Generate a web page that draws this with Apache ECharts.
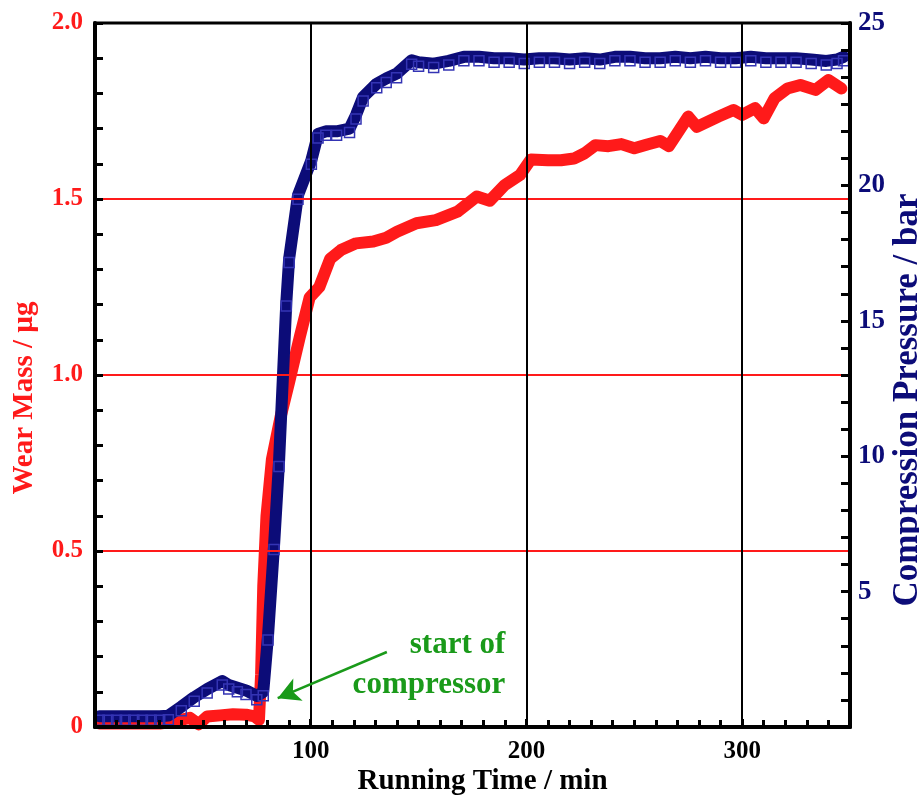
<!DOCTYPE html>
<html>
<head>
<meta charset="utf-8">
<script src="https://cdn.jsdelivr.net/npm/echarts@6/dist/echarts.min.js"></script>
<style>
html,body{margin:0;padding:0;background:#fff;}
#chart{width:919px;height:799px;}
</style>
</head>
<body>
<div id="chart"></div>
<script>
// ---- data ----
const wearTime = [2,10,20,30,36,44,48,52,58,64,70,74,76,77,78,79.5,82,86,90,95,99.5,104,109,114,121,129,135,140,149,158,168,177,183,190,197,202,210,216,222,227,232,238,244,250,256,262,266,275,279,289,296,300,306,310,315,321,327,334,340,346];
const wearMass = [0.01,0.01,0.01,0.01,0.015,0.026,0.008,0.03,0.033,0.036,0.035,0.03,0.02,0.15,0.4,0.6,0.76,0.88,0.98,1.11,1.22,1.25,1.33,1.355,1.374,1.379,1.39,1.407,1.431,1.44,1.464,1.507,1.495,1.54,1.568,1.612,1.61,1.61,1.615,1.63,1.653,1.65,1.656,1.644,1.655,1.665,1.65,1.734,1.705,1.734,1.753,1.739,1.758,1.729,1.786,1.814,1.824,1.81,1.838,1.814];

const pressTime = [2,6,10,14,18,22,26,30,34,40,46,52,59,62,66,70,75,78,80.2,83,85.3,88.7,90,94.1,100.3,103.4,107,112,118,121,124.3,130.6,135,139.8,146.8,150,157,164,171,178,185,192,199,206,213,220,227,234,241,248,255,262,269,276,283,290,297,304,311,318,325,332,339,344,347];
const pressure  = [0.4,0.4,0.4,0.4,0.4,0.4,0.4,0.4,0.42,0.75,1.1,1.4,1.7,1.55,1.45,1.35,1.15,1.3,3.36,6.7,9.77,15.7,17.3,19.64,20.93,21.9,22.0,22.0,22.1,22.6,23.27,23.76,23.95,24.13,24.62,24.55,24.5,24.6,24.75,24.75,24.7,24.7,24.65,24.7,24.7,24.65,24.7,24.65,24.75,24.75,24.7,24.7,24.75,24.7,24.75,24.7,24.7,24.75,24.7,24.7,24.7,24.65,24.6,24.65,24.75];

const xTickLabels = {100:'100',200:'200',300:'300'};
const leftTickLabels = {0:'0',0.5:'0.5',1:'1.0',1.5:'1.5',2:'2.0'};
const rightTickLabels = {5:'5',10:'10',15:'15',20:'20',26:'25'};

const annotationText = 'start of\ncompressor';
const arrowFrom = [135.3, 0.213];
const arrowTo = [84.7, 0.082];
const textAnchor = [190.2, 0.176];

const FONT = "'Liberation Serif','Times New Roman',serif";
const RED = '#ff1a1a';
const NAVY = '#0c0c78';
const GREEN = '#1a9a1a';
const NONE = 'rgba(0,0,0,0)';

const chart = echarts.init(document.getElementById('chart'), null, {renderer:'canvas'});
const option = {
  animation: false,
  backgroundColor: '#fff',
  grid: {left:95, right:69, top:23, bottom:72, show:true, borderColor:'#000', borderWidth:3, containLabel:false, outerBoundsMode:'none'},
  xAxis: {
    type:'value', min:0, max:350, interval:100, z:3,
    name:'Running Time / min', nameLocation:'middle', nameGap:40, nameMoveOverlap:false,
    nameTextStyle:{fontFamily:FONT, fontWeight:'bold', fontSize:29, color:'#000', padding:[0,0,0,20]},
    axisLine:{show:true, onZero:false, lineStyle:{color:'#000', width:4}},
    axisTick:{show:true, inside:true, length:8, lineStyle:{color:'#000', width:3}},
    minorTick:{show:true, splitNumber:10, length:7, lineStyle:{color:'#000', width:3}},
    splitLine:{show:true, lineStyle:{color:['#000'], width:2}},
    axisLabel:{fontFamily:FONT, fontWeight:'bold', fontSize:25, color:'#000', margin:12, showMaxLabel:false,
      formatter: v => xTickLabels[v] || ''}
  },
  yAxis: [{
    type:'value', min:0, max:2, interval:0.5, z:3, position:'left',
    name:'Wear Mass / µg', nameLocation:'middle', nameGap:56, nameRotate:90, nameMoveOverlap:false,
    nameTextStyle:{fontFamily:FONT, fontWeight:'bold', fontSize:29, color:RED, padding:[0,46,0,0]},
    axisLine:{show:true, onZero:false, lineStyle:{color:'#000', width:4}},
    axisTick:{show:true, inside:true, length:8, lineStyle:{color:'#000', width:3}},
    minorTick:{show:true, splitNumber:5, length:8, lineStyle:{color:'#000', width:3}},
    splitLine:{show:true, lineStyle:{color:[NONE, RED, RED, RED, NONE], width:2}},
    axisLabel:{fontFamily:FONT, fontWeight:'bold', fontSize:25, color:RED, margin:12,
      formatter: v => leftTickLabels[v] !== undefined ? leftTickLabels[v] : ''}
  },{
    type:'value', min:0, max:26, interval:1, z:3, position:'right', alignTicks:false,
    name:'Compression Pressure / bar', nameLocation:'middle', nameGap:40, nameRotate:90, nameMoveOverlap:false,
    nameTextStyle:{fontFamily:FONT, fontWeight:'bold', fontSize:35, color:NAVY, padding:[0,50,0,0]},
    axisLine:{show:true, onZero:false, lineStyle:{color:'#000', width:4}},
    axisTick:{show:true, inside:true, length:9, lineStyle:{color:'#000', width:3}},
    splitLine:{show:false},
    axisLabel:{fontFamily:FONT, fontWeight:'bold', fontSize:27, color:NAVY, margin:8, showMaxLabel:true,
      formatter: v => rightTickLabels[v] || ''}
  }],
  series: [{
    name:'Wear Mass', type:'line', yAxisIndex:0, z:2,
    data: wearTime.map((t,i)=>[t, wearMass[i]]),
    showSymbol:false, symbol:'none',
    lineStyle:{color:RED, width:12, join:'round', cap:'round'},
    markLine:{
      silent:true, symbol:['none','arrow'], symbolSize:[18,22],
      lineStyle:{color:GREEN, width:2.5, type:'solid'},
      label:{show:false},
      data:[[{coord:arrowFrom},{coord:arrowTo}]]
    },
    markPoint:{
      silent:true, symbol:'rect', symbolSize:0,
      label:{show:true, position:'inside', align:'right', verticalAlign:'middle',
        formatter: annotationText, fontFamily:FONT, fontWeight:'bold', fontSize:31, lineHeight:40, color:GREEN},
      data:[{coord:textAnchor}]
    }
  },{
    name:'Compression Pressure', type:'line', yAxisIndex:1, z:2.5,
    data: pressTime.map((t,i)=>[t, pressure[i]]),
    symbol:'rect', symbolSize:10, symbolOffset:[0,4], showSymbol:true,
    itemStyle:{color:NONE, borderColor:'#3434b4', borderWidth:1.5},
    lineStyle:{color:NAVY, width:12, join:'round', cap:'round'}
  }]
};
chart.setOption(option);
</script>
</body>
</html>
